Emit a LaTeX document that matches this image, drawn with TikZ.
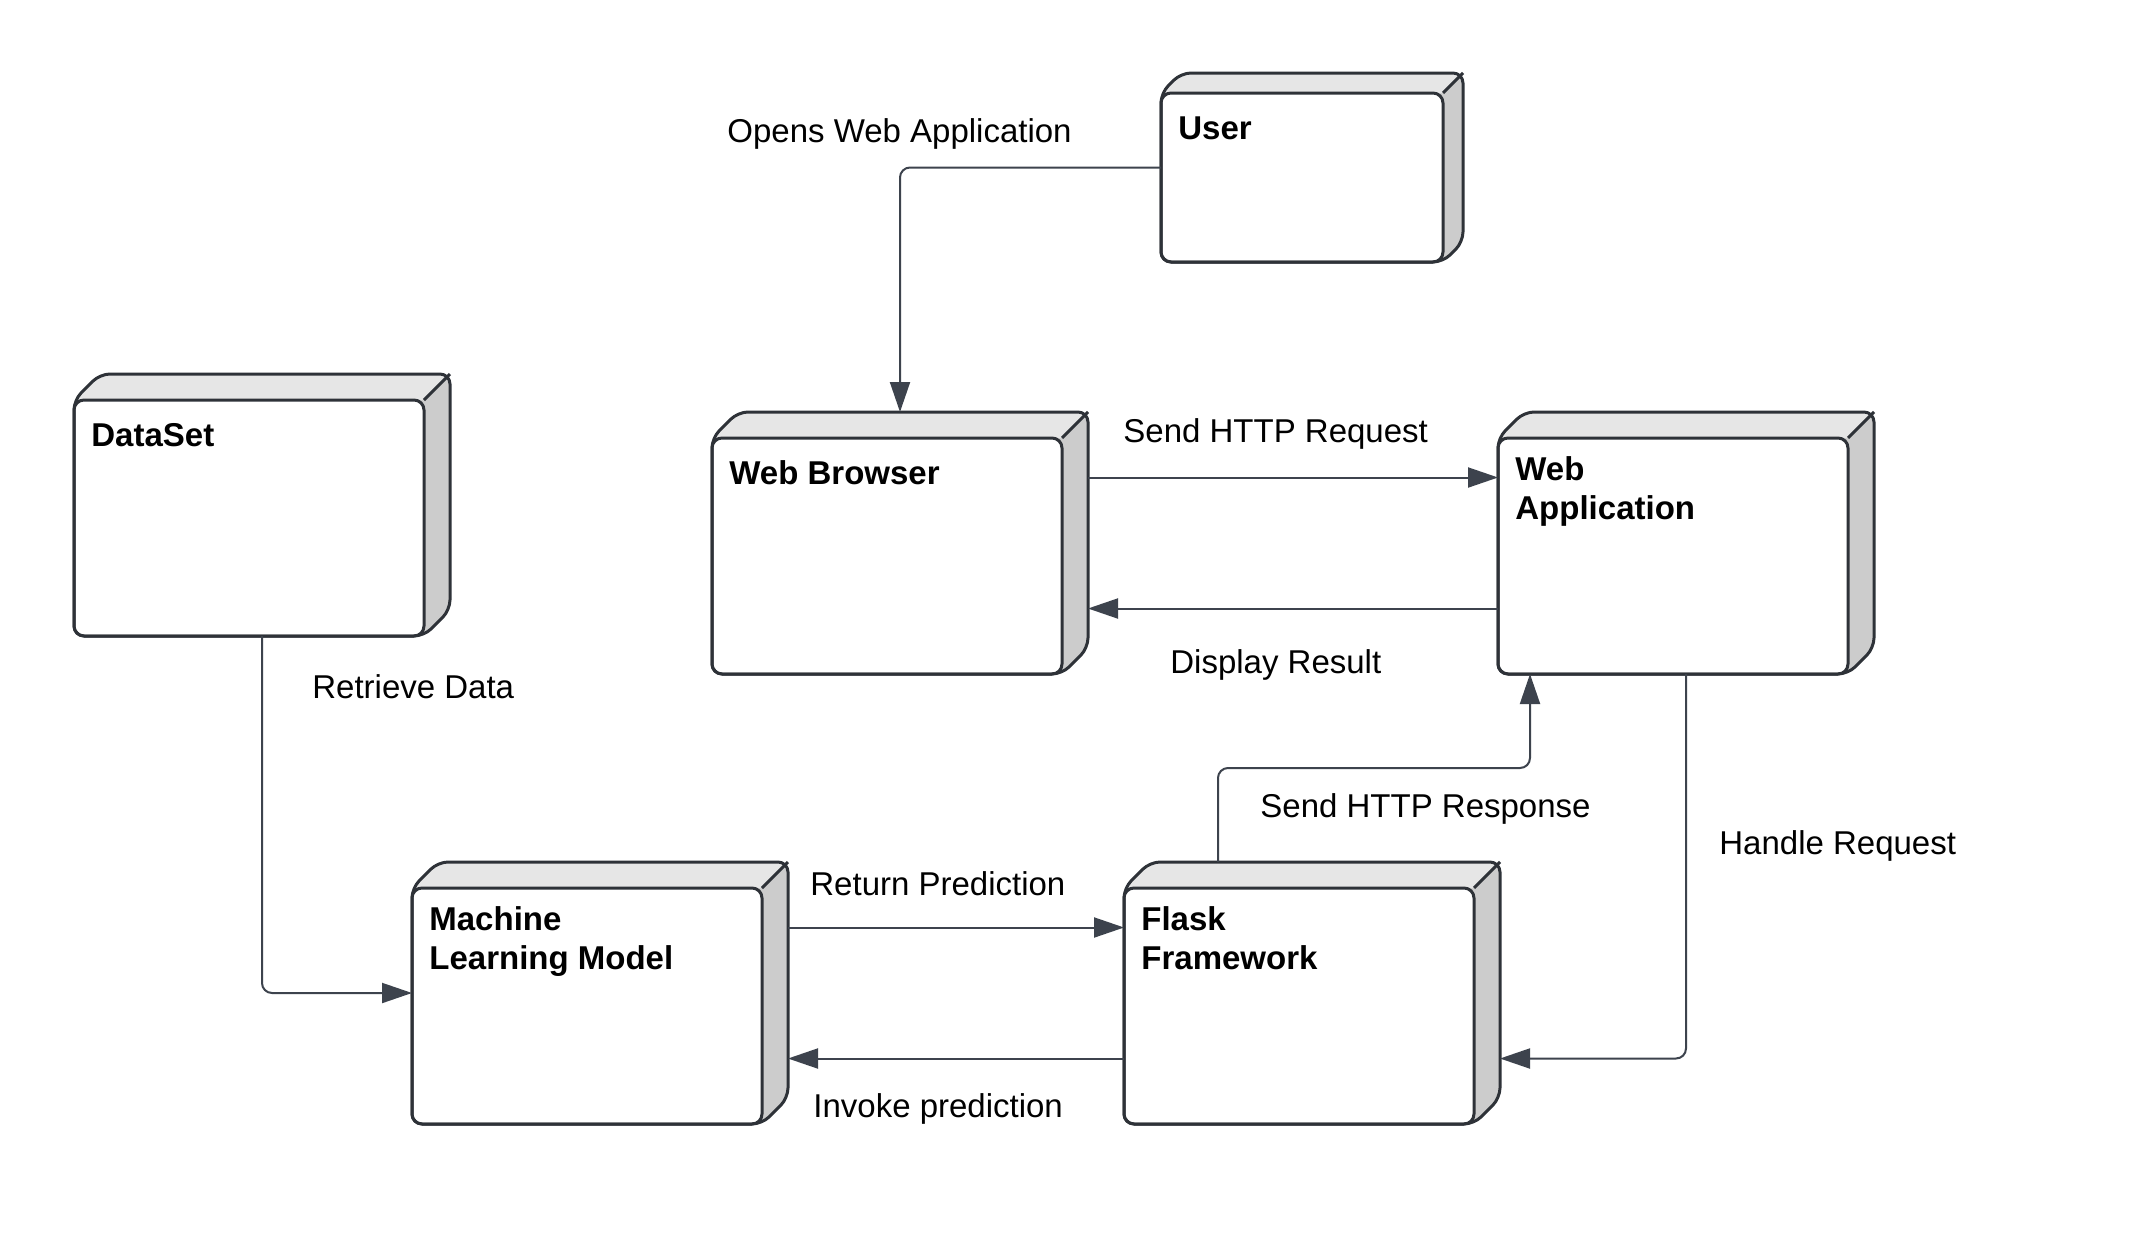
\documentclass[tikz,border=0pt]{standalone}
\usepackage{fontspec}
\setmainfont{Liberation Sans}
\usetikzlibrary{arrows.meta,calc}
\definecolor{cBox}{HTML}{2E3238}
\definecolor{cLine}{HTML}{3D434D}
\definecolor{cTop}{HTML}{E6E6E6}
\definecolor{cSide}{HTML}{CCCCCC}
\tikzset{
  bboxnode/.style={rectangle, inner sep=0pt, outer sep=0pt, draw=none},
  frontface/.style={rectangle, inner sep=0pt, outer sep=0pt, draw=cBox, fill=white, line width=1.5pt, rounded corners=5pt},
  boxedge/.style={draw=cBox, line width=1.5pt, rounded corners=5pt, line join=round},
  titletext/.style={font=\bfseries\fontsize{16.5pt}{19.5pt}\selectfont, inner sep=0pt, align=left, text=black},
  lbl/.style={font=\fontsize{16.5pt}{19.5pt}\selectfont, inner sep=0pt, text=black},
  conn/.style={draw=cLine, line width=1pt, rounded corners=5pt, -{Triangle[length=15pt,width=10pt]}},
}
% #1 name, #2 x0, #3 y0, #4 W, #5 H, #6 depth, #7 offset of last title baseline, #8 title
\newcommand{\depbox}[8]{%
  \pgfmathsetmacro\bxX{#2+#4}%
  \pgfmathsetmacro\bxY{#3+#5}%
  \pgfmathsetmacro\bxF{#3+#6}%
  \pgfmathsetmacro\bxR{#2+#4-#6}%
  \pgfmathsetmacro\bxL{#2+#6}%
  \pgfmathsetmacro\bxS{#3+#5-#6}%
  \pgfmathsetmacro\bxT{#2+17}%
  \pgfmathsetmacro\bxB{#3+#6+#7}%
  \node[bboxnode, minimum width=#4*0.5pt, minimum height=#5*0.5pt, anchor=north west] (#1) at (#2,#3) {};
  \fill[cSide, rounded corners=5pt] (#2,\bxY) -- (#2,\bxF) -- (\bxL,#3) -- (\bxX,#3) -- (\bxX,\bxS) -- (\bxR,\bxY) -- cycle;
  \begin{scope}[rounded corners=5pt]
    \clip (#2,\bxY) -- (#2,\bxF) -- (\bxL,#3) -- (\bxX,#3) -- (\bxX,\bxS) -- (\bxR,\bxY) -- cycle;
    \fill[cTop, sharp corners] (#2,\bxF) -- (\bxL,#3) -- (\bxX,#3) -- (\bxR,\bxF) -- cycle;
  \end{scope}
  \node[frontface, minimum width=(#4-#6)*0.5pt, minimum height=(#5-#6)*0.5pt, anchor=south west] (#1-front) at (#2,\bxY) {};
  \draw[boxedge] (#2,\bxY) -- (#2,\bxF) -- (\bxL,#3) -- (\bxX,#3) -- (\bxX,\bxS) -- (\bxR,\bxY) -- cycle;
  \draw[boxedge] (\bxR,\bxF) -- (\bxX,#3);
  \node[titletext, anchor=base west] (#1-title) at (\bxT,\bxB) {#8};
}
\begin{document}
\begin{tikzpicture}[x=0.5pt,y=-0.5pt]
\useasboundingbox (0,0) rectangle (2138,1243);
\fill[white] (0,0) rectangle (2138,1243);

\depbox{user}{1161}{73}{302}{189}{20}{46}{User}
\depbox{wb}{712}{412}{376}{262}{26}{46}{Web Browser}
\depbox{wa}{1498}{412}{376}{262}{26}{81}{Web\\Application}
\depbox{ds}{74}{374}{376}{262}{26}{46}{DataSet}
\depbox{ml}{412}{862}{376}{262}{26}{81}{Machine\\Learning Model}
\depbox{fl}{1124}{862}{376}{262}{26}{81}{Flask\\Framework}

\coordinate (resp-mid) at (1374,768);

% connectors
\draw[conn] (user.west) -| (wb.north);
\draw[conn] ($(wb.north east)!0.25!(wb.south east)$) -- ($(wa.north west)!0.25!(wa.south west)$);
\draw[conn] ($(wa.north west)!0.75!(wa.south west)$) -- ($(wb.north east)!0.75!(wb.south east)$);
\draw[conn] ($(fl.north west)!0.25!(fl.north east)$) |- (resp-mid) -| ($(wa.south west)+(32,0)$);
\draw[conn] (wa.south) |- ($(fl.north east)!0.75!(fl.south east)$);
\draw[conn] ($(ml.north east)!0.25!(ml.south east)$) -- ($(fl.north west)!0.25!(fl.south west)$);
\draw[conn] ($(fl.north west)!0.75!(fl.south west)$) -- ($(ml.north east)!0.75!(ml.south east)$);
\draw[conn] (ds.south) |- (ml.west);

% labels
\node[lbl, anchor=base west] (l-open) at (727,142) {Opens Web Application};
\node[lbl, anchor=base west] (l-req) at (1123,442) {Send HTTP Request};
\node[lbl, anchor=base west] (l-disp) at (1170,673) {Display Result};
\node[lbl, anchor=base west] (l-resp) at (1260,817) {Send HTTP Response};
\node[lbl, anchor=base west] (l-handle) at (1719,854) {Handle Request};
\node[lbl, anchor=base west] (l-ret) at (810,895) {Return Prediction};
\node[lbl, anchor=base west] (l-inv) at (813,1117) {Invoke prediction};
\node[lbl, anchor=base west] (l-data) at (312,698) {Retrieve Data};
\end{tikzpicture}
\end{document}
